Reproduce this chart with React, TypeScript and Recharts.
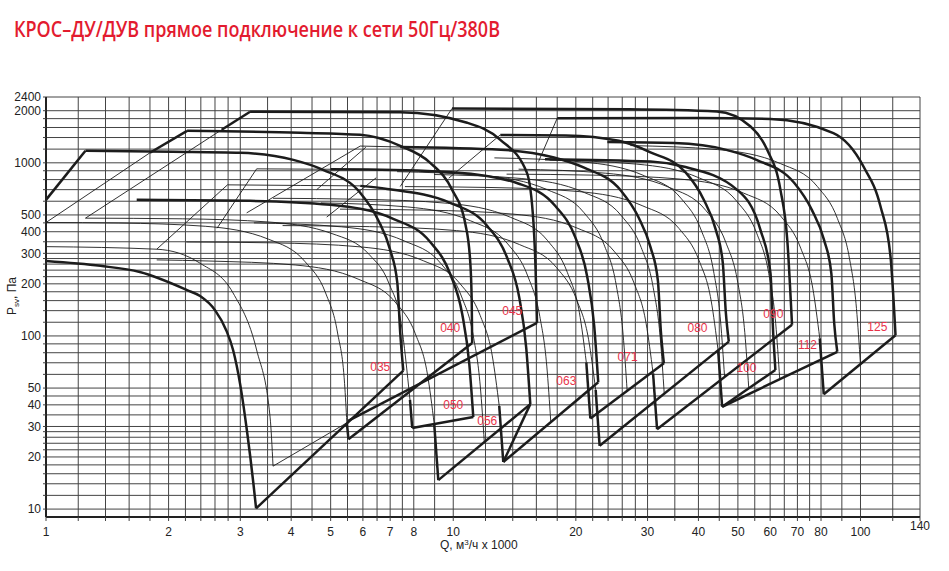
import React from "react";
import { LineChart, Line, XAxis, YAxis, CartesianGrid, ReferenceDot } from "recharts";

type Pt = [number, number];

// axis grid (log-log)
const qTicks = [1, 1.2, 1.4, 1.6, 1.8, 2, 2.2, 2.4, 2.6, 2.8, 3, 3.5, 4, 4.5, 5, 5.5, 6, 6.5, 7, 7.5, 8, 9, 10,
  12, 14, 16, 18, 20, 22, 24, 26, 28, 30, 35, 40, 45, 50, 55, 60, 65, 70, 75, 80, 90, 100, 120, 140];
const qLabeled = [1, 2, 3, 4, 5, 6, 7, 8, 10, 20, 30, 40, 50, 60, 70, 80, 100, 140];
const pTicks = [10, 12, 14, 16, 18, 20, 22, 24, 26, 28, 30, 35, 40, 45, 50, 60, 70, 80, 90, 100, 120, 140, 160, 180,
  200, 220, 240, 260, 280, 300, 350, 400, 450, 500, 600, 700, 800, 900, 1000, 1200, 1400, 1600, 1800, 2000, 2400];
const pLabeled = [10, 20, 30, 40, 50, 100, 200, 300, 400, 500, 1000, 2000, 2400];

// fan curves, Q (m3/h x 1000) / Psv (Pa)
// 035
const high035: Pt[] = [[1.25, 1173], [2.05, 1158], [3.0, 1142], [4.05, 1040], [4.79, 911], [5.91, 671], [6.54, 468], [7.0, 314], [7.29, 202], [7.41, 104], [7.54, 63]];
const left035: Pt[] = [[1, 611], [1.25, 1173]];
const right035: Pt[] = [[3.28, 10.1], [7.54, 63]];
const low035: Pt[] = [[1, 271], [1.36, 254], [1.7, 234], [2.22, 184], [2.39, 170], [2.6, 141], [2.77, 108], [2.88, 83], [3.0, 52], [3.12, 27.5], [3.23, 14.1], [3.28, 10.1]];
const thinA: Pt[] = [[1, 328], [1.87, 317], [2.39, 263], [2.88, 177], [3.29, 83], [3.55, 34], [3.61, 17.7]];
const thinAEnd: Pt[] = [[3.61, 17.7], [5.48, 31.5]];

// 040
const high040: Pt[] = [[2.22, 1531], [4.21, 1491], [5.91, 1452], [7.41, 1254], [8.78, 1000], [9.94, 698], [10.72, 438], [11.0, 275], [11.1, 161], [11.13, 91]];
const leftThin040: Pt[] = [[1, 452], [1.8, 1143]];
const left040: Pt[] = [[1.8, 1143], [2.22, 1531]];
const right040: Pt[] = [[5.53, 25.3], [11.13, 91]];
const low040: Pt[] = [[1, 452], [1.51, 449], [2.46, 430], [3.52, 362], [4.33, 268], [4.86, 177], [5.2, 104], [5.41, 53], [5.48, 31.5]];
const stub040: Pt[] = [[5.48, 31.5], [5.53, 25.3]];

// 045
const high045: Pt[] = [[3.17, 1972], [7.41, 1960], [10.82, 1703], [13.05, 1358], [15.17, 875], [15.74, 450], [15.93, 241], [16.06, 119]];
const leftThin045: Pt[] = [[1.25, 479], [2.7, 1552]];
const left045: Pt[] = [[2.7, 1552], [3.17, 1972]];
const right045: Pt[] = [[5.52, 32.3], [16.06, 119]];

// 050
const high050: Pt[] = [[1.67, 611], [3.17, 603], [4.99, 572], [7.12, 475], [8.78, 349], [9.83, 228], [10.52, 134], [10.95, 69], [11.2, 34]];
const right050: Pt[] = [[7.93, 29.4], [11.2, 34]];
const low050: Pt[] = [[1.25, 479], [2.16, 475], [3.53, 455], [5.04, 390], [6.22, 295], [6.96, 200], [7.45, 118], [7.83, 42.7]];
const stub050: Pt[] = [[7.83, 42.7], [7.93, 29.4]];

// 056
const start056: Pt[] = [[2.79, 746], [4.21, 740], [5.91, 736]];
const high056: Pt[] = [[5.91, 736], [6.88, 707], [9.83, 587], [12.12, 432], [13.57, 282], [14.53, 166], [15.11, 85], [15.46, 40.4]];
const left056: Pt[] = [[1.87, 317], [2.79, 746]];
const right056: Pt[] = [[9.19, 14.7], [15.46, 40.4]];
const steep056: Pt[] = [[13.27, 18.7], [15.46, 40.4]];
const low056: Pt[] = [[1.87, 275], [2.5, 271], [4.09, 257], [5.84, 213], [7.2, 157], [8.07, 103], [8.64, 60.3], [8.98, 31.0]];
const stub056: Pt[] = [[8.98, 31.0], [9.19, 14.7]];
const mid056: Pt[] = [[3.24, 450], [5.31, 427], [7.58, 354], [9.34, 261], [10.47, 170], [11.2, 100], [11.65, 51.4], [11.92, 24.4]];

// 063
const start063: Pt[] = [[3.29, 923], [5.0, 918]];
const high063: Pt[] = [[5.0, 918], [6.18, 915], [10.11, 880], [14.44, 760], [17.79, 565], [19.93, 372], [21.33, 220], [22.19, 114], [22.7, 54]];
const left063: Pt[] = [[2.63, 419], [3.29, 923]];
const right063: Pt[] = [[13.27, 18.7], [22.7, 54]];
const low063: Pt[] = [[2.21, 349], [3.61, 345], [5.91, 327], [8.44, 272], [10.4, 200], [11.65, 131], [12.47, 76.7], [12.97, 39.4]];
const stub063: Pt[] = [[12.97, 39.4], [13.27, 18.7]];
const mid063: Pt[] = [[4.73, 587], [7.73, 556], [11.04, 462], [13.61, 340], [15.24, 222], [16.31, 130], [16.97, 67], [17.36, 31.8]];

// 071
const start071: Pt[] = [[5.91, 1250], [7.41, 1235]];
const high071: Pt[] = [[7.41, 1235], [13.09, 1190], [17.67, 1073], [20.89, 940], [25.79, 692], [28.52, 483], [30.53, 324], [31.81, 208], [32.34, 107], [32.9, 69.5]];
const left071: Pt[] = [[3.11, 514], [5.91, 1250]];
const right071: Pt[] = [[21.71, 33.4], [32.9, 69.5]];
const low071: Pt[] = [[3.61, 624], [5.91, 616], [9.67, 584], [13.81, 485], [17.02, 357], [19.06, 233], [20.4, 137], [21.22, 70.4]];
const stub071: Pt[] = [[21.22, 70.4], [21.71, 33.4]];
const mid071: Pt[] = [[7.28, 889], [11.9, 843], [17.0, 700], [20.95, 515], [23.47, 336], [25.12, 198], [26.13, 101.6], [26.73, 48.2]];

// 080
const high080: Pt[] = [[13.05, 1450], [18.9, 1440], [25.5, 1340], [30.5, 1150], [37.2, 881], [41.2, 614], [44.1, 413], [45.9, 265], [46.7, 137], [47.5, 92.7]];
const left080: Pt[] = [[9.75, 815], [13.05, 1450]];
const right080: Pt[] = [[22.88, 23.2], [47.5, 92.7]];
const low080: Pt[] = [[3.81, 434], [6.23, 428], [10.19, 406], [14.55, 337], [17.94, 248], [20.09, 162], [21.5, 95.1], [22.37, 48.9]];
const stub080: Pt[] = [[22.37, 48.9], [22.88, 23.2]];
const mid080: Pt[] = [[8.97, 856], [14.68, 812], [20.97, 674], [25.85, 496], [28.95, 324], [30.98, 190], [32.23, 97.8], [32.97, 46.4]];

// 090
const high090: Pt[] = [[9.93, 2060], [27, 2040], [44.4, 1980], [53.7, 1622], [59.0, 1189], [63.6, 698], [66.1, 359], [67.9, 116]];
const left090: Pt[] = [[7.41, 730], [9.93, 2060]];
const right090: Pt[] = [[31.66, 28.9], [67.9, 116]];
const low090: Pt[] = [[5.27, 540], [8.62, 533], [14.1, 505], [20.14, 420], [24.82, 309], [27.8, 202], [29.75, 118.5], [30.95, 60.9]];
const stub090: Pt[] = [[30.95, 60.9], [31.66, 28.9]];
const mid090: Pt[] = [[12.62, 1068], [20.65, 1013], [29.49, 841], [36.35, 619], [40.71, 404], [43.57, 237], [45.33, 122], [46.37, 57.9]];

// 100
const high100: Pt[] = [[16.8, 1050], [30.5, 1017], [36.7, 952], [49.8, 698], [56.8, 410], [60.1, 231], [61.1, 99], [61.8, 63.6]];
const right100: Pt[] = [[45.74, 39], [61.8, 63.6]];
const low100: Pt[] = [[7.61, 729], [12.45, 720], [20.37, 682], [29.09, 566], [35.86, 417], [40.16, 272], [42.98, 160], [44.72, 82.2]];
const stub100: Pt[] = [[44.72, 82.2], [45.74, 39]];
const mid100: Pt[] = [[14.47, 919], [23.68, 871], [33.82, 723], [41.68, 532], [46.68, 348], [49.96, 204], [51.98, 105], [53.17, 49.8]];

// 112
const high112: Pt[] = [[23.9, 1318], [34.9, 1300], [47.1, 1184], [55.7, 1037], [68.8, 764], [76.0, 533], [81.4, 358], [84.8, 230], [86.2, 118], [87.7, 81]];
const right112: Pt[] = [[45.74, 39], [87.7, 81]];
const mid112: Pt[] = [[17.24, 1037], [28.21, 983], [40.28, 816], [49.65, 601], [55.61, 392], [59.52, 230], [61.92, 118], [63.34, 56.2]];

// 125
const high125: Pt[] = [[18.0, 1810], [40, 1815], [60.1, 1790], [85.8, 1485], [101.7, 952], [112, 559], [118.5, 287], [121.9, 101]];
const left125: Pt[] = [[16.2, 1017], [18.0, 1810]];
const right125: Pt[] = [[81.25, 46], [121.9, 101]];
const low125: Pt[] = [[13.52, 860], [22.12, 849], [36.18, 805], [51.68, 668], [63.69, 492], [71.34, 321], [76.35, 189], [79.43, 96.9]];
const stub125: Pt[] = [[79.43, 96.9], [81.25, 46]];
const mid125: Pt[] = [[27.22, 1258], [44.53, 1193], [63.6, 990], [78.39, 729], [87.8, 476], [93.97, 280], [97.76, 144], [100, 68.2]];

// other thin start lines
const leftD: Pt[] = [[4.62, 700], [6.1, 1230]];
const leftE: Pt[] = [[4.89, 486], [6.47, 820]];

const sizeNames = ["035", "040", "045", "050", "056", "063", "071", "080", "090", "100", "112", "125"];
const labelQ = [6.62, 9.83, 13.96, 10, 12.12, 18.95, 26.8, 39.8, 61.1, 52.5, 74.1, 110];
const labelP = [66.2, 111, 139.5, 39.9, 32.3, 55, 75.6, 111, 134, 65.3, 88.7, 112.7];

type Curve = { id: string; pts: Pt[]; smooth: boolean };

const thinCurves: Curve[] = [
  { id: "thinA", pts: thinA, smooth: true },
  { id: "thinAEnd", pts: thinAEnd, smooth: false },
  { id: "leftThin040", pts: leftThin040, smooth: false },
  { id: "low040", pts: low040, smooth: true },
  { id: "leftThin045", pts: leftThin045, smooth: false },
  { id: "low050", pts: low050, smooth: true },
  { id: "start056", pts: start056, smooth: true },
  { id: "left056", pts: left056, smooth: false },
  { id: "low056", pts: low056, smooth: true },
  { id: "mid056", pts: mid056, smooth: true },
  { id: "start063", pts: start063, smooth: true },
  { id: "left063", pts: left063, smooth: false },
  { id: "low063", pts: low063, smooth: true },
  { id: "mid063", pts: mid063, smooth: true },
  { id: "start071", pts: start071, smooth: true },
  { id: "left071", pts: left071, smooth: false },
  { id: "low071", pts: low071, smooth: true },
  { id: "mid071", pts: mid071, smooth: true },
  { id: "left080", pts: left080, smooth: false },
  { id: "low080", pts: low080, smooth: true },
  { id: "mid080", pts: mid080, smooth: true },
  { id: "left090", pts: left090, smooth: false },
  { id: "low090", pts: low090, smooth: true },
  { id: "mid090", pts: mid090, smooth: true },
  { id: "low100", pts: low100, smooth: true },
  { id: "mid100", pts: mid100, smooth: true },
  { id: "mid112", pts: mid112, smooth: true },
  { id: "left125", pts: left125, smooth: false },
  { id: "low125", pts: low125, smooth: true },
  { id: "mid125", pts: mid125, smooth: true },
  { id: "leftD", pts: leftD, smooth: false },
  { id: "leftE", pts: leftE, smooth: false },
];

const thickCurves: Curve[] = [
  { id: "high035", pts: high035, smooth: true },
  { id: "left035", pts: left035, smooth: false },
  { id: "right035", pts: right035, smooth: false },
  { id: "low035", pts: low035, smooth: true },
  { id: "high040", pts: high040, smooth: true },
  { id: "left040", pts: left040, smooth: false },
  { id: "right040", pts: right040, smooth: false },
  { id: "stub040", pts: stub040, smooth: false },
  { id: "high045", pts: high045, smooth: true },
  { id: "left045", pts: left045, smooth: false },
  { id: "right045", pts: right045, smooth: false },
  { id: "high050", pts: high050, smooth: true },
  { id: "right050", pts: right050, smooth: false },
  { id: "stub050", pts: stub050, smooth: false },
  { id: "high056", pts: high056, smooth: true },
  { id: "right056", pts: right056, smooth: false },
  { id: "steep056", pts: steep056, smooth: false },
  { id: "stub056", pts: stub056, smooth: false },
  { id: "high063", pts: high063, smooth: true },
  { id: "right063", pts: right063, smooth: false },
  { id: "stub063", pts: stub063, smooth: false },
  { id: "high071", pts: high071, smooth: true },
  { id: "right071", pts: right071, smooth: false },
  { id: "stub071", pts: stub071, smooth: false },
  { id: "high080", pts: high080, smooth: true },
  { id: "right080", pts: right080, smooth: false },
  { id: "stub080", pts: stub080, smooth: false },
  { id: "high090", pts: high090, smooth: true },
  { id: "right090", pts: right090, smooth: false },
  { id: "stub090", pts: stub090, smooth: false },
  { id: "high100", pts: high100, smooth: true },
  { id: "right100", pts: right100, smooth: false },
  { id: "stub100", pts: stub100, smooth: false },
  { id: "high112", pts: high112, smooth: true },
  { id: "right112", pts: right112, smooth: false },
  { id: "high125", pts: high125, smooth: true },
  { id: "right125", pts: right125, smooth: false },
  { id: "stub125", pts: stub125, smooth: false },
];

const toRows = (pts: Pt[]) => pts.map(([q, p]) => ({ q, p }));

const font = "'Liberation Sans', Arial, sans-serif";

function XTick(props: any) {
  const { x, y, payload } = props;
  const v = payload.value;
  if (!qLabeled.includes(v)) return <g />;
  return (
    <text x={x} y={y + (v === 140 ? 7 : 13)} textAnchor="middle" fontSize={12} fontFamily={font} fill="#222">
      {v}
    </text>
  );
}

function YTick(props: any) {
  const { x, y, payload } = props;
  const v = payload.value;
  if (!pLabeled.includes(v)) return <g />;
  return (
    <text x={x} y={y} dy="0.36em" textAnchor="end" fontSize={12} fontFamily={font} fill="#222">
      {v}
    </text>
  );
}

export default function App() {
  return (
    <div style={{ position: "absolute", left: 0, top: 0, width: 949, height: 571, background: "#fff" }}>
      <svg width={949} height={571} style={{ position: "absolute", left: 0, top: 0 }}>
        <text x={14} y={37} fontSize={21} fontWeight={600} fontFamily="'Open Sans', sans-serif" fill="#e31b2f"
          textLength={486} lengthAdjust="spacingAndGlyphs">
          КРОС–ДУ/ДУВ прямое подключение к сети 50Гц/380В
        </text>
        <text x={440} y={549} fontSize={12} fontFamily={font} fill="#222">
          Q, м<tspan dy={-4} fontSize={8}>3</tspan><tspan dy={4}>/ч x 1000</tspan>
        </text>
        <text transform="translate(16,296) rotate(-90)" textAnchor="middle" fontSize={12} fontFamily={font} fill="#222">
          P<tspan dy={3} fontSize={8}>sv</tspan><tspan dy={-3}>, Па</tspan>
        </text>
      </svg>
      <div style={{ position: "absolute", left: 0, top: 0 }}>
        <LineChart width={949} height={571} margin={{ top: 97, right: 29, bottom: 24, left: 6 }}>
          <CartesianGrid stroke="#444" strokeWidth={1} />
          <XAxis dataKey="q" type="number" scale="log" domain={[1, 140]} ticks={qTicks} interval={0}
            allowDataOverflow height={30} tick={<XTick />} tickSize={4} tickLine={{ stroke: "#444" }}
            axisLine={{ stroke: "#222", strokeWidth: 2 }} />
          <YAxis dataKey="p" type="number" scale="log" domain={[9, 2400]} ticks={pTicks} interval={0}
            allowDataOverflow width={40} tick={<YTick />} tickSize={3} tickLine={{ stroke: "#444" }}
            axisLine={{ stroke: "#222", strokeWidth: 2 }} />
          {thinCurves.map((c) => (
            <Line key={c.id} data={toRows(c.pts)} dataKey="p" type={c.smooth ? "monotone" : "linear"}
              stroke="#1c1c1c" strokeWidth={0.9} dot={false} activeDot={false} isAnimationActive={false} />
          ))}
          {thickCurves.map((c) => (
            <Line key={c.id} data={toRows(c.pts)} dataKey="p" type={c.smooth ? "monotone" : "linear"}
              stroke="#1c1c1c" strokeWidth={2.5} dot={false} activeDot={false} isAnimationActive={false} />
          ))}
          {sizeNames.map((n, i) => (
            <ReferenceDot key={n} x={labelQ[i]} y={labelP[i]} r={0} fill="none" stroke="none" ifOverflow="visible"
              label={{ value: n, position: "center", fill: "#e8334a", fontSize: 12, fontFamily: font }} />
          ))}
        </LineChart>
      </div>
    </div>
  );
}
